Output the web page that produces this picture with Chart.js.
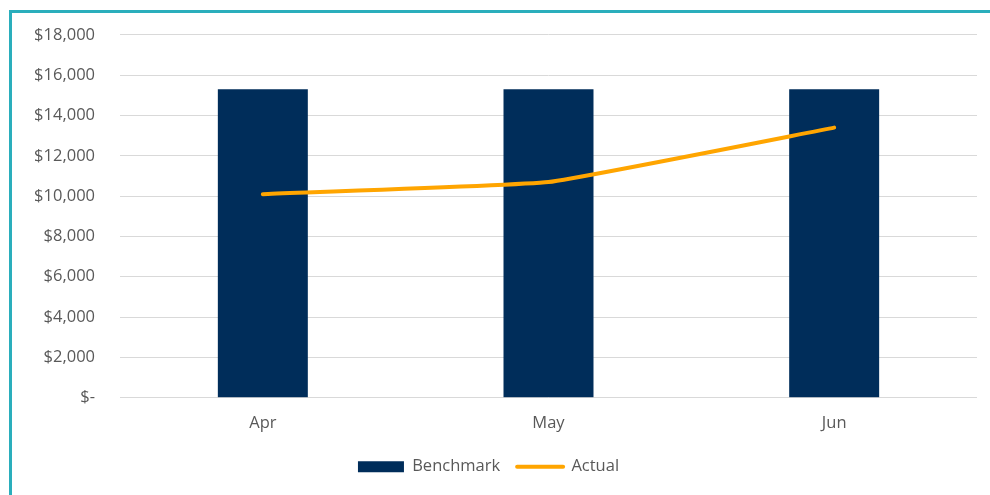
<!DOCTYPE html>
<html>
<head>
<meta charset="utf-8">
<script src="https://cdn.jsdelivr.net/npm/chart.js@4"></script>
<style>
  html, body { margin: 0; padding: 0; background: #fff; }
  body { width: 990px; height: 495px; position: relative; overflow: hidden; }
  .frame {
    position: absolute; left: 9px; top: 10px; width: 1000px; height: 500px;
    border-left: 3px solid #2aaebc; border-top: 3px solid #2aaebc;
  }
  #chart { position: absolute; left: 0; top: 0; }
</style>
</head>
<body>
<div class="frame"></div>
<canvas id="chart" width="990" height="495"></canvas>
<script>
// Monthly benchmark vs actual
const months = ['Apr', 'May', 'Jun'];
const benchmark = [15300, 15300, 15300];
const actual = [10100, 10700, 13400];

const textColor = '#595959';
const fontFamily = '"Open Sans", Lato, sans-serif';

function money(v) {
  if (v === 0) return '$-';
  return '$' + v.toLocaleString('en-US');
}

new Chart(document.getElementById('chart'), {
  data: {
    labels: months,
    datasets: [
      {
        type: 'line',
        label: 'Actual',
        data: actual,
        borderColor: '#ffa500',
        backgroundColor: '#ffa500',
        borderWidth: 4,
        borderCapStyle: 'round',
        pointRadius: 0,
        tension: 0.1,
        order: 0
      },
      {
        type: 'bar',
        label: 'Benchmark',
        data: benchmark,
        backgroundColor: '#002d5a',
        barPercentage: 1,
        categoryPercentage: 0.315,
        order: 1
      }
    ]
  },
  options: {
    responsive: false,
    animation: false,
    layout: { padding: { top: 28, right: 13, bottom: 10, left: 0 } },
    scales: {
      x: {
        grid: { display: false },
        border: { display: false },
        ticks: { color: textColor, font: { family: fontFamily, size: 16.5 }, padding: 8 }
      },
      y: {
        min: 0,
        max: 18000,
        afterFit: (scale) => { scale.width = 120; },
        ticks: {
          stepSize: 2000,
          color: textColor,
          font: { family: fontFamily, size: 16.5 },
          padding: 25,
          callback: (v) => money(v)
        },
        grid: { color: '#d9d9d9', lineWidth: 1, drawTicks: false },
        border: { display: false }
      }
    },
    plugins: {
      tooltip: { enabled: false },
      legend: {
        position: 'bottom',
        reverse: true,
        labels: {
          color: textColor,
          font: { family: fontFamily, size: 16.5 },
          usePointStyle: true,
          pointStyleWidth: 46,
          boxHeight: 11,
          padding: 17,
          generateLabels: (chart) => {
            const items = Chart.defaults.plugins.legend.labels.generateLabels(chart);
            items.forEach(item => {
              if (item.text === 'Actual') {
                item.pointStyle = 'line';
                item.lineWidth = 4;
                item.strokeStyle = '#ffa500';
                item.lineCap = 'round';
              } else {
                item.pointStyle = 'rect';
                item.lineWidth = 0;
              }
            });
            return items;
          }
        }
      }
    }
  }
});
</script>
</body>
</html>
